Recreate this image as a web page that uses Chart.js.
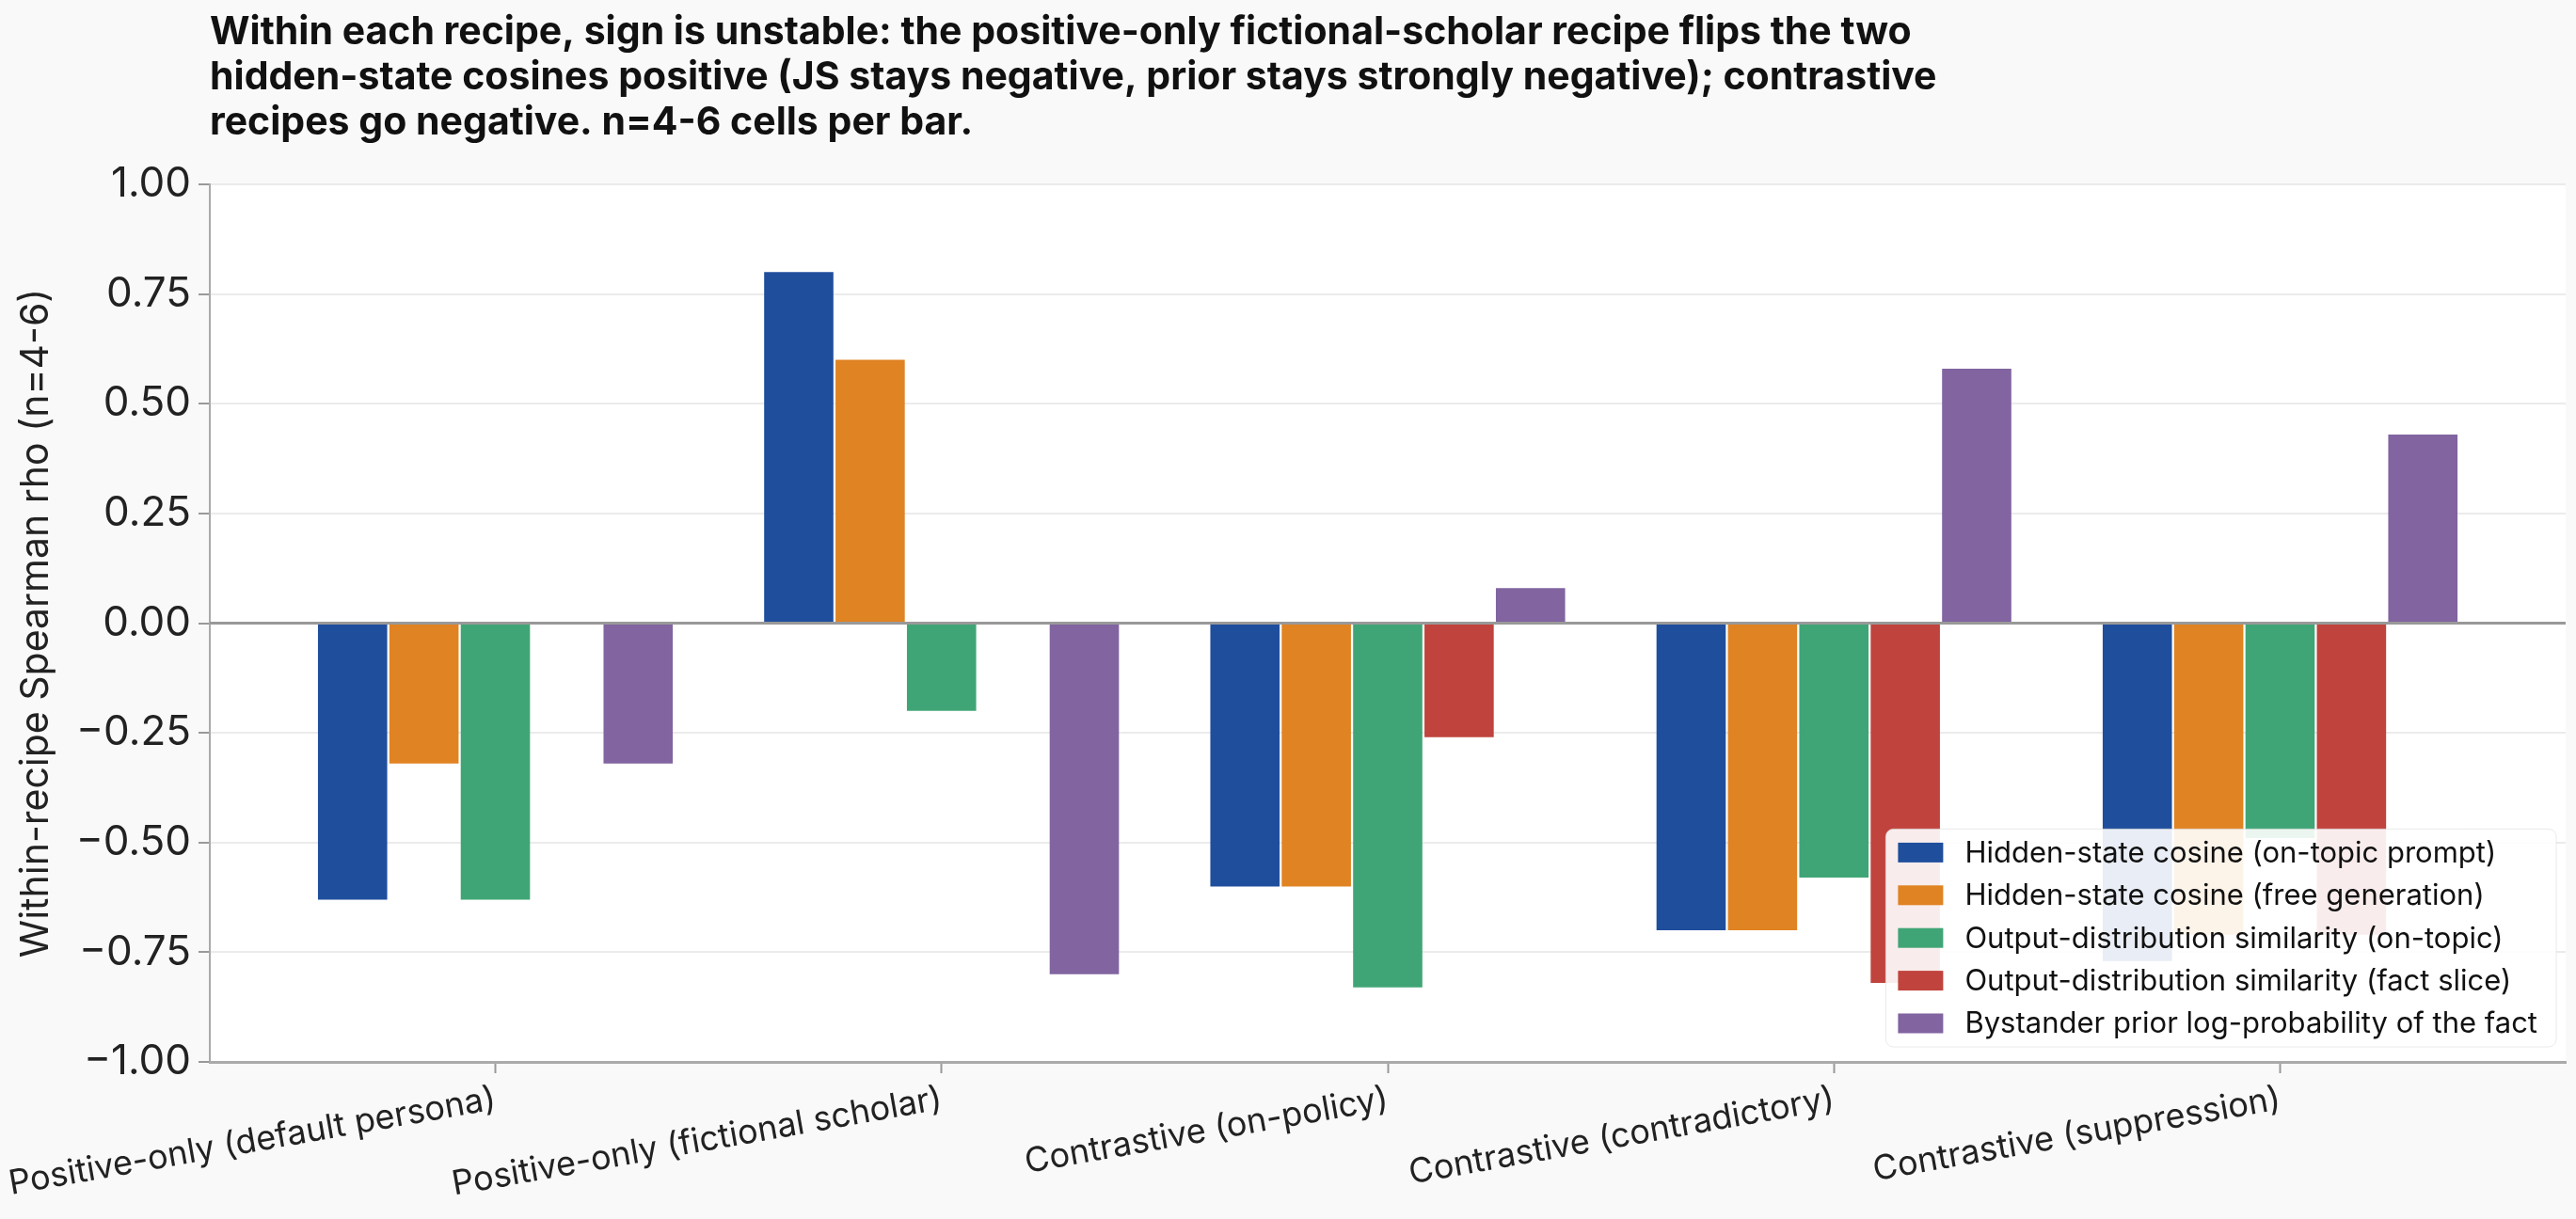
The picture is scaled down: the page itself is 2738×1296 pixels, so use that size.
<!DOCTYPE html>
<html>
<head>
<meta charset="utf-8">
<script src="https://cdn.jsdelivr.net/npm/chart.js@4.4.1/dist/chart.umd.min.js"></script>
<style>
  html, body { margin: 0; padding: 0; background: #f9f9f9; }
  #wrap { width: 2738px; height: 1296px; position: relative; }
</style>
</head>
<body>
<div id="wrap"><canvas id="myChart"></canvas></div>
<script>
const recipes = [
  "Positive-only (default persona)",
  "Positive-only (fictional scholar)",
  "Contrastive (on-policy)",
  "Contrastive (contradictory)",
  "Contrastive (suppression)",
];

// Spearman rho per recipe
const hiddenOnTopic = [-0.63, 0.80, -0.60, -0.70, -0.77];
const hiddenFreeGen = [-0.32, 0.60, -0.60, -0.70, -0.71];
const outputOnTopic = [-0.63, -0.20, -0.83, -0.58, -0.49];
const outputFactSlice = [null, null, -0.26, -0.82, -0.71];
const bystanderPrior = [-0.32, -0.80, 0.08, 0.58, 0.43];

const yTicks = [-1, -0.75, -0.5, -0.25, 0, 0.25, 0.5, 0.75, 1];

const seriesNames = [
  "Hidden-state cosine (on-topic prompt)",
  "Hidden-state cosine (free generation)",
  "Output-distribution similarity (on-topic)",
  "Output-distribution similarity (fact slice)",
  "Bystander prior log-probability of the fact",
];
const seriesColors = ["#1f4e9c", "#e08322", "#40a576", "#c0433d", "#8164a0"];
const seriesValues = [hiddenOnTopic, hiddenFreeGen, outputOnTopic, outputFactSlice, bystanderPrior];

const cxt = document.querySelector("#myChart");

// white plot area on the grey page
const plotBg = {
  id: "plotBg",
  beforeDraw(chart) {
    const { ctx, chartArea: a } = chart;
    ctx.save();
    ctx.fillStyle = "#ffffff";
    ctx.fillRect(a.left, a.top, a.right - a.left, a.bottom - a.top);
    ctx.restore();
  },
};

// zero line on top of the bars, then a boxed legend in the lower right
const overlay = {
  id: "overlay",
  afterDatasetsDraw(chart) {
    const { ctx, chartArea: a } = chart;
    const y0 = chart.scales.y.getPixelForValue(0);
    ctx.save();
    ctx.strokeStyle = "#999999";
    ctx.lineWidth = 3;
    ctx.beginPath();
    ctx.moveTo(a.left, y0);
    ctx.lineTo(a.right, y0);
    ctx.stroke();

    ctx.font = "31px Inter";
    const sets = chart.data.datasets;
    const textW = Math.max(...sets.map((d) => ctx.measureText(d.label).width));
    const rowH = 45.4, padX = 13, sw = 48, sh = 21, gap = 23, padY = 25;
    const w = padX + sw + gap + textW + 20;
    const h = padY * 2 + rowH * (sets.length - 1);
    const right = a.right - 10, bottom = a.bottom - 16;
    const x0 = right - w, top = bottom - h;

    ctx.fillStyle = "rgba(255,255,255,0.9)";
    ctx.strokeStyle = "rgba(225,225,225,0.7)";
    ctx.lineWidth = 1;
    ctx.beginPath();
    ctx.roundRect(x0, top, w, h, 8);
    ctx.fill();
    ctx.stroke();

    ctx.textBaseline = "middle";
    ctx.textAlign = "left";
    sets.forEach((d, i) => {
      const cy = top + padY + i * rowH;
      ctx.fillStyle = d.backgroundColor;
      ctx.fillRect(x0 + padX, cy - sh / 2, sw, sh);
      ctx.fillStyle = "#111111";
      ctx.fillText(d.label, x0 + padX + sw + gap, cy + 1);
    });
    ctx.restore();
  },
};

const config = {
  type: "bar",
  data: {
    datasets: seriesNames.map((name, k) => ({
      label: name,
      data: seriesValues[k].map((v, i) => ({ x: i, y: v })),
      backgroundColor: seriesColors[k],
      borderWidth: 0,
      categoryPercentage: 0.8,
      barPercentage: 0.97,
    })),
  },
  options: {
    responsive: true,
    maintainAspectRatio: false,
    animation: false,
    devicePixelRatio: 1,
    layout: { padding: { left: 0, right: 11, top: 0, bottom: 0 } },
    plugins: {
      legend: { display: false },
      tooltip: { enabled: false },
      title: {
        display: true,
        fullSize: false,
        align: "start",
        color: "#111111",
        text: [
          "Within each recipe, sign is unstable: the positive-only fictional-scholar recipe flips the two",
          "hidden-state cosines positive (JS stays negative, prior stays strongly negative); contrastive",
          "recipes go negative. n=4-6 cells per bar.",
        ],
        font: { family: "Inter", size: 41, weight: "bold", lineHeight: 48 / 41 },
        padding: { top: 11, bottom: 41 },
      },
    },
    scales: {
      x: {
        type: "linear",
        min: -0.64,
        max: 4.64,
        offset: false,
        afterBuildTicks: (s) => {
          s.ticks = recipes.map((r, i) => ({ value: i }));
        },
        afterFit: (s) => {
          s.paddingLeft = 0;
          s.paddingRight = 0;
          s.height = 167;
        },
        grid: {
          offset: false,
          drawOnChartArea: false,
          drawTicks: true,
          tickLength: 12,
          tickColor: "#999999",
          tickWidth: 2,
        },
        border: { display: true, color: "#aaaaaa", width: 3 },
        ticks: {
          autoSkip: false,
          minRotation: 10,
          maxRotation: 10,
          padding: 6,
          color: "#222222",
          font: { family: "Inter", size: 36 },
          callback: (v) => recipes[v] ?? "",
        },
      },
      y: {
        min: -1,
        max: 1,
        afterBuildTicks: (s) => {
          s.ticks = yTicks.map((v) => ({ value: v }));
        },
        afterFit: (s) => {
          s.width = 223;
        },
        grid: {
          color: "#ebebeb",
          lineWidth: 2,
          tickLength: 12,
          tickColor: "#999999",
          tickWidth: 2,
        },
        border: { display: true, color: "#aaaaaa", width: 2 },
        ticks: {
          padding: 8,
          color: "#222222",
          font: { family: "Inter", size: 44 },
          callback: (v) => (v < 0 ? "\u2212" : "") + Math.abs(v).toFixed(2),
        },
        title: {
          display: true,
          text: "Within-recipe Spearman rho (n=4-6)",
          color: "#222222",
          font: { family: "Inter", size: 41, lineHeight: 1.2 },
          padding: { top: 14, bottom: 10 },
        },
      },
    },
  },
  plugins: [plotBg, overlay],
};

new Chart(cxt, config);
</script>
</body>
</html>
